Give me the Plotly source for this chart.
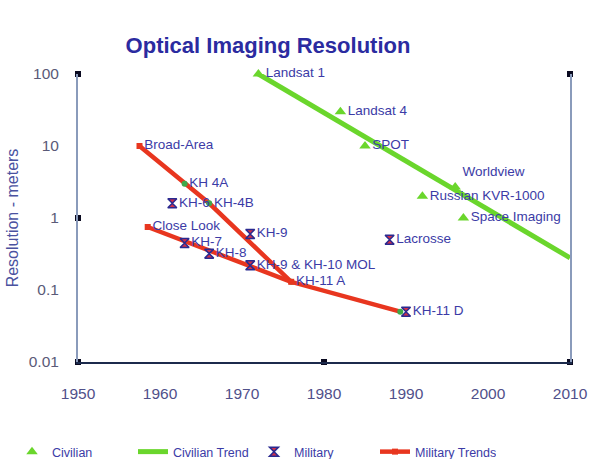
import plotly.graph_objects as go

# Civilian imaging satellites
civ_names = ["Landsat 1", "Landsat 4", "SPOT", "Worldview", "Russian KVR-1000", "Space Imaging"]
civ_year = [1972, 1982, 1985, 1996, 1992, 1997]
civ_res = [100, 30, 10, 2.7, 2, 1]
civ_textpos = ["middle right", "middle right", "middle right", "top right",
               "middle right", "middle right"]

# Civilian trend line
civ_trend_year = [1972, 2010]
civ_trend_res = [100, 0.28]

# Military reconnaissance systems
mil_names = ["KH-6", "KH-7", "KH-8", "KH-9", "KH-9 & KH-10 MOL", "Lacrosse", "KH-11 D"]
mil_year = [1961.5, 1963, 1966, 1971, 1971, 1988, 1990]
mil_res = [1.6, 0.45, 0.32, 0.6, 0.22, 0.5, 0.05]

# Military trend lines
trend_a_names = ["Broad-Area", "KH 4A", "KH-4B", "KH-11 A", ""]
trend_a_year = [1957.5, 1963, 1966, 1976, 1989.3]
trend_a_res = [10, 3, 1.6, 0.13, 0.05]
trend_b_names = ["Close Look", ""]
trend_b_year = [1958.5, 1976]
trend_b_res = [0.75, 0.13]

# Axis box corner markers
left_marks = [100, 1, 0.01]
bottom_marks = [1950, 1980, 2010]

x_ticks = [1950, 1960, 1970, 1980, 1990, 2000, 2010]
y_ticks = [0.01, 0.1, 1, 10, 100]
y_ticktext = ["0.01", "0.1", "1", "10", "100"]

GREEN = "#6ad62c"
RED = "#e8361f"
LABEL = "#3b3ba6"
FONT = "Liberation Sans, Arial, sans-serif"
LABEL_SIZE = 13.5

fig = go.Figure()

fig.add_trace(go.Scatter(
    x=civ_trend_year, y=civ_trend_res, mode="lines", name="Civilian Trend",
    line=dict(color=GREEN, width=5), legendrank=2,
))

fig.add_trace(go.Scatter(
    x=trend_a_year, y=trend_a_res, mode="lines+markers+text", name="Military Trends",
    line=dict(color=RED, width=4.5),
    marker=dict(symbol=["square"] + ["circle"] * (len(trend_a_year) - 1), size=6,
                color=[RED] + ["#3fa84a"] * (len(trend_a_year) - 1)),
    text=trend_a_names, textposition="middle right",
    textfont=dict(color=LABEL, size=LABEL_SIZE, family=FONT), legendrank=4,
))
fig.add_trace(go.Scatter(
    x=trend_b_year, y=trend_b_res, mode="lines+markers+text", name="Military Trends",
    line=dict(color=RED, width=4.5), showlegend=False,
    marker=dict(symbol="square", size=6, color=RED),
    text=trend_b_names, textposition="middle right",
    textfont=dict(color=LABEL, size=LABEL_SIZE, family=FONT),
))

fig.add_trace(go.Scatter(
    x=civ_year, y=civ_res, mode="markers+text", name="Civilian", cliponaxis=False,
    marker=dict(symbol="triangle-up", size=10, color=GREEN),
    text=civ_names, textposition=civ_textpos,
    textfont=dict(color=LABEL, size=LABEL_SIZE, family=FONT), legendrank=1,
))

fig.add_trace(go.Scatter(
    x=mil_year, y=mil_res, mode="markers+text", name="Military",
    marker=dict(symbol="hourglass", size=9, color="#d0304a",
                line=dict(color="#2a2a90", width=1.5)),
    text=mil_names, textposition="middle right",
    textfont=dict(color=LABEL, size=LABEL_SIZE, family=FONT), legendrank=3,
))

# small square markers on the axis frame
fig.add_trace(go.Scatter(
    x=[x_ticks[0]] * len(left_marks) + bottom_marks + [x_ticks[-1]],
    y=left_marks + [y_ticks[0]] * len(bottom_marks) + [y_ticks[-1]],
    mode="markers", showlegend=False, hoverinfo="skip", cliponaxis=False,
    marker=dict(symbol="square", size=6, color="#0a0a20"),
))

fig.update_layout(
    width=592, height=459,
    margin=dict(l=78, r=22, t=74, b=97, autoexpand=False),
    paper_bgcolor="white", plot_bgcolor="white",
    font=dict(family=FONT, color=LABEL),
    title=dict(text="<b>Optical Imaging Resolution</b>", x=268 / 592, xanchor="center",
               xref="container", y=1 - 45 / 459, yanchor="middle", yref="container",
               font=dict(size=22, color="#2b2ba0", family=FONT)),
    showlegend=True,
    legend=dict(orientation="h", x=(12 - 78) / 492, xanchor="left",
                y=(362 - 452) / 288, yanchor="middle",
                font=dict(size=12.5, color=LABEL, family=FONT),
                traceorder="normal", itemwidth=30, entrywidth=76,
                entrywidthmode="pixels"),
)

fig.update_xaxes(
    range=[1950, 2010], tickvals=x_ticks, ticktext=[str(v) for v in x_ticks],
    showgrid=False, zeroline=False, showline=True, linecolor="#1c2a4c", linewidth=2,
    ticks="", ticklabelstandoff=16,
    tickfont=dict(size=15.5, color="#50508a", family=FONT),
)
fig.update_yaxes(
    type="log", range=[-2, 2], tickvals=y_ticks, ticktext=y_ticktext,
    showgrid=False, zeroline=False, showline=True, linecolor="#8a9bbb", linewidth=2,
    mirror=True, ticks="", ticklabelstandoff=14,
    tickfont=dict(size=15.5, color="#5a5a78", family=FONT),
    title=dict(text="Resolution - meters", font=dict(size=16, color="#4a52a0", family=FONT),
               standoff=6),
)

fig.write_html("out.html")
